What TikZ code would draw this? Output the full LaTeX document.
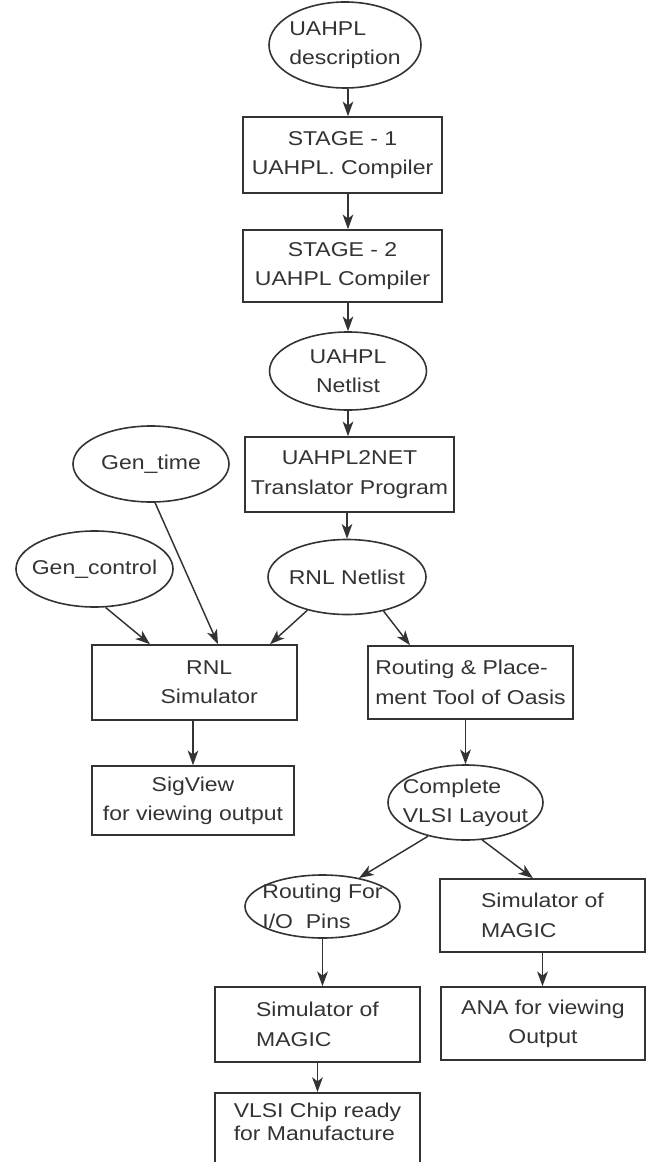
\documentclass[tikz,border=0pt]{standalone}
\usepackage{fontspec}
\setmainfont{Liberation Sans}[FakeStretch=1.15]
\usetikzlibrary{shapes.geometric,arrows.meta,calc}
\begin{document}
\begin{tikzpicture}[x=0.75pt,y=-0.75pt,
  every node/.style={font=\fontsize{15}{22}\selectfont, text=black!80},
  box/.style 2 args={draw=black!80, line width=1.2pt, rectangle, inner sep=0pt,
     minimum width=#1*0.75pt, minimum height=#2*0.75pt},
  ell/.style 2 args={draw=black!80, line width=1.2pt, ellipse, inner sep=0pt,
     minimum width=#1*0.75pt, minimum height=#2*0.75pt},
  tl/.style={align=left, inner sep=0pt},
  tc/.style={align=center, inner sep=0pt},
  arr/.style={-{Stealth[length=11pt,width=8pt,inset=3pt]}, line width=1.1pt, draw=black!80}]
\useasboundingbox (0,0) rectangle (647,1162);
\clip (0,0) rectangle (647,1162);

% main column
\node[ell={152}{86}, label={[tl]center:{UAHPL\\description}}] (desc) at (345,45) {};
\node[box={199}{76}, tc] (s1) at (342.5,155) {STAGE - 1\\UAHPL. Compiler};
\node[box={199}{72}, tc] (s2) at (342.5,266) {STAGE - 2\\UAHPL Compiler};
\node[ell={157}{78}, label={[tc]center:{UAHPL\\Netlist}}] (net) at (348,371) {};
\node[box={209}{75}, tc] (u2n) at (349.5,474.5) {UAHPL2NET\\Translator Program};
\node[ell={158}{75}, label={[tc]center:{RNL Netlist}}] (rnl) at (347,577) {};

% left inputs
\node[ell={156}{76}, label={[tc]center:{Gen\_time}}] (gtime) at (151,464) {};
\node[ell={157}{76}, label={[tc]center:{Gen\_control}}] (gctrl) at (94.5,569) {};

% simulator branch
\node[box={205}{75}, tc] (rsim) at (194.5,682.5) {\hspace*{22pt}RNL\\\hspace*{22pt}Simulator};
\node[box={202}{69}, tc] (sig) at (193,800.5) {SigView\\for viewing output};

% layout branch
\node[box={205}{73}, tl] (rp) at (470.5,682.5) {Routing \& Place-\\ment Tool of Oasis};
\node[ell={155}{75}, label={[tl]center:{Complete\\VLSI Layout}}] (cvl) at (465.5,802.5) {};
\node[ell={155}{63}, label={[tl]center:{Routing For\\I/O~~Pins}}] (rio) at (322.5,906.5) {};
\node[box={205}{73}, tl] (smr) at (542.5,915.5) {Simulator of\\MAGIC};
\node[box={205}{75}, tl] (sml) at (317.5,1024.5) {Simulator of\\MAGIC};
\node[box={204}{73}, tc] (ana) at (543,1023.5) {ANA for viewing\\Output};
\node[box={205}{80}, anchor=north,
  label={[tl,yshift=8.25pt,font=\fontsize{15}{17.5}\selectfont]center:{VLSI Chip ready\\for Manufacture}}] (chip) at (317.5,1092) {};

% connectors
\draw[arr] (desc.south -| 348,0) -- (s1.north -| 348,0);
\draw[arr] (s1.south -| 348,0) -- (s2.north -| 348,0);
\draw[arr] (s2.south -| net.north) -- (net.north);
\draw[arr] (net.south) -- (net.south |- u2n.north);
\draw[arr] (u2n.south -| rnl.north) -- (rnl.north);
\draw[arr] (gctrl.-74) -- ($(rsim.north)+(-44.5,0)$);
\draw[arr] (gtime.-84) -- ($(rsim.north)+(23.5,0)$);
\draw[arr] (rnl.-140) -- ($(rsim.north)+(75.5,0)$);
\draw[arr] (rnl.-43) -- ($(rp.north)+(-60.5,0)$);
\draw[arr] (rsim.south -| sig.north) -- (sig.north);
\draw[arr] (rp.south -| cvl.north) -- (cvl.north);
\draw[arr] (cvl.-138) -- (rio.38);
\draw[arr] (cvl.-66) -- ($(smr.north)+(-9.5,0)$);
\draw[arr] (rio.south) -- (rio.south |- sml.north);
\draw[arr] (smr.south) -- (smr.south |- ana.north);
\draw[arr] (sml.south) -- (sml.south |- chip.north);
\end{tikzpicture}
\end{document}
